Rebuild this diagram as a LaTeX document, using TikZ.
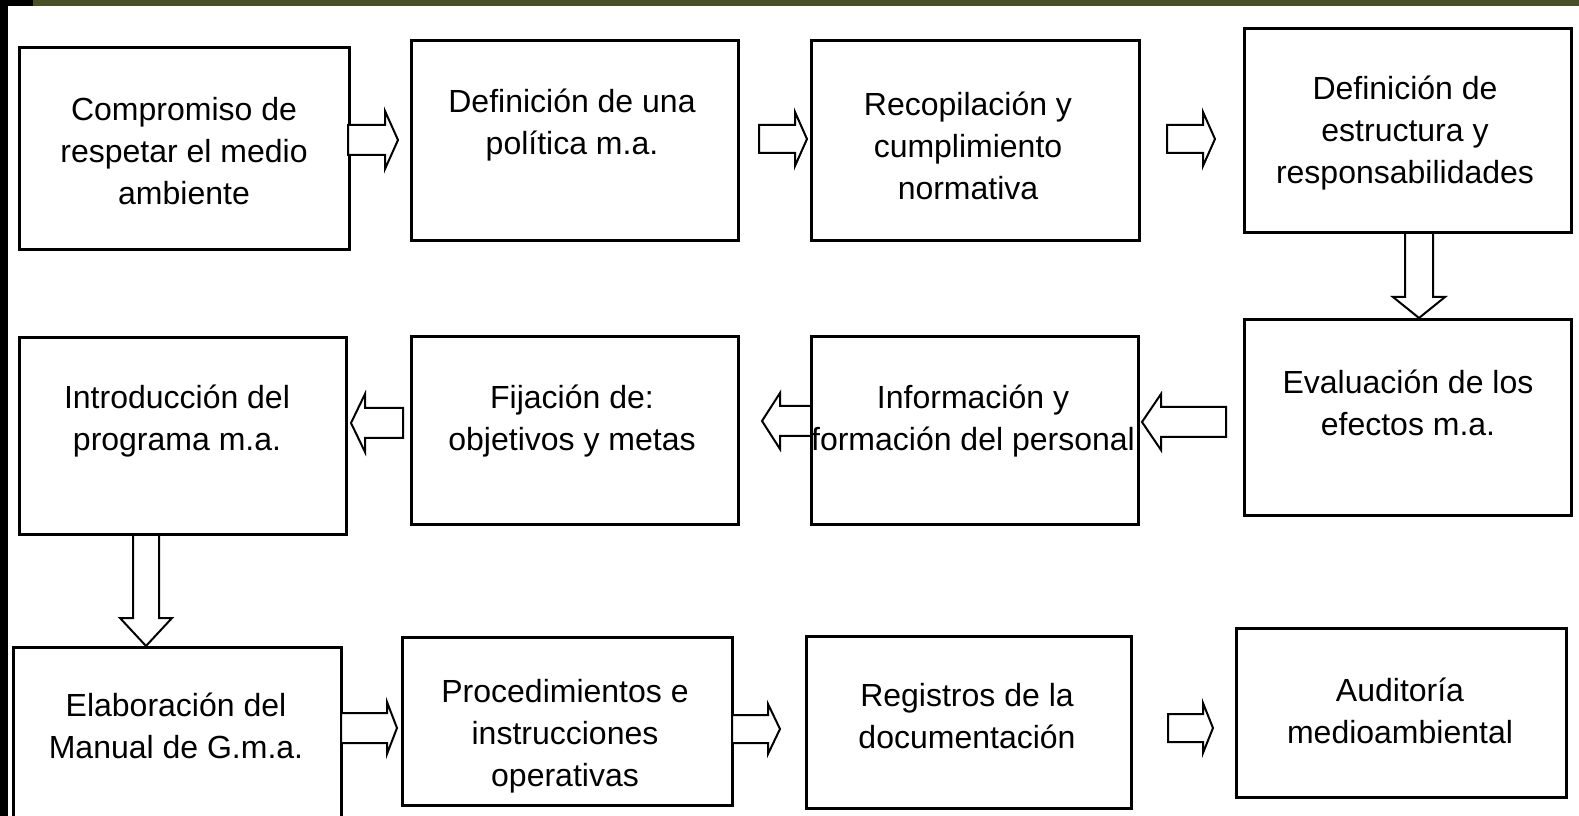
\documentclass[tikz,border=0pt]{standalone}
\usepackage{fontspec}
\setmainfont{Liberation Sans}
\definecolor{olivebar}{RGB}{74,80,40}
\tikzset{
  boxnode/.style={draw=black, line width=2.25pt, fill=white, inner sep=0pt, outer sep=0pt},
  txt/.style={align=center, inner sep=0pt, font=\fontsize{24}{31.5}\selectfont},
  blockarrow/.style={draw=black, line width=1.5pt, fill=white, line join=miter}
}
% horizontal block arrow: tail x, head base x, tip x, center y, shaft half, head half
\newcommand{\harrowshape}[6]{%
  \draw[blockarrow] (#1,#4-#5) -- (#2,#4-#5) -- (#2,#4-#6) -- (#3,#4) -- (#2,#4+#6) -- (#2,#4+#5) -- (#1,#4+#5) -- cycle;}
% vertical block arrow: center x, tail y, head base y, tip y, shaft half, head half
\newcommand{\varrowshape}[6]{%
  \draw[blockarrow] (#1-#5,#2) -- (#1-#5,#3) -- (#1-#6,#3) -- (#1,#4) -- (#1+#6,#3) -- (#1+#5,#3) -- (#1+#5,#2) -- cycle;}
\begin{document}
\begin{tikzpicture}[x=0.75pt,y=-0.75pt]
\useasboundingbox (0,0) rectangle (1579,816);
\clip (0,0) rectangle (1579,816);
\fill[white] (0,0) rectangle (1579,816);
% frame bars
\fill[olivebar] (0,0) rectangle (1579,6);
\fill[black] (0,0) rectangle (33,6);
\fill[black] (0,0) rectangle (8,816);

% boxes
\node[boxnode, minimum width=330*0.75pt, minimum height=202*0.75pt] (b1) at (184,149) {};
\node[boxnode, minimum width=327*0.75pt, minimum height=200*0.75pt] (b2) at (574.5,141) {};
\node[boxnode, minimum width=328*0.75pt, minimum height=200*0.75pt] (b3) at (975,141) {};
\node[boxnode, minimum width=327*0.75pt, minimum height=204*0.75pt] (b4) at (1407.5,131) {};
\node[boxnode, minimum width=327*0.75pt, minimum height=197*0.75pt] (b5) at (182.5,436) {};
\node[boxnode, minimum width=327*0.75pt, minimum height=188*0.75pt] (b6) at (574.5,431) {};
\node[boxnode, minimum width=327*0.75pt, minimum height=188*0.75pt] (b7) at (974.5,431) {};
\node[boxnode, minimum width=327*0.75pt, minimum height=196*0.75pt] (b8) at (1407.5,418) {};
\node[boxnode, minimum width=328*0.75pt, minimum height=190*0.75pt] (b9) at (177,742) {};
\node[boxnode, minimum width=330*0.75pt, minimum height=168*0.75pt] (b10) at (567,721) {};
\node[boxnode, minimum width=325*0.75pt, minimum height=172*0.75pt] (b11) at (968.5,722) {};
\node[boxnode, minimum width=330*0.75pt, minimum height=169*0.75pt] (b12) at (1401,712.5) {};

% texts
\node[txt] (t1) at (184,151) {Compromiso de\\respetar el medio\\ambiente};
\node[txt] (t2) at (572,125) {Definición de una\\política m.a.};
\node[txt] (t3) at (968,146) {Recopilación y\\cumplimiento\\normativa};
\node[txt] (t4) at (1405,133) {Definición de\\estructura y\\responsabilidades};
\node[txt] (t5) at (177,421) {Introducción del\\programa m.a.};
\node[txt] (t6) at (572,421) {Fijación de:\\objetivos y metas};
\node[txt] (t7) at (973,421) {Información y\\formación del personal};
\node[txt] (t8) at (1408,403) {Evaluación de los\\efectos m.a.};
\node[txt] (t9) at (176,726) {Elaboración del\\Manual de G.m.a.};
\node[txt] (t10) at (565,736) {Procedimientos e\\instrucciones\\operativas};
\node[txt] (t11) at (967,716) {Registros de la\\documentación};
\node[txt] (t12) at (1400,711) {Auditoría\\medioambiental};

% block arrows (connectors)
\harrowshape{348}{385}{398}{140}{15}{29}
\harrowshape{759}{795}{807}{139}{14}{27}
\harrowshape{1167}{1203}{1215}{139}{14}{27}
\varrowshape{1419}{233}{297}{318}{14}{26}
\harrowshape{1226}{1161}{1142}{422}{15}{28}
\harrowshape{811}{780}{762}{421}{15}{28}
\harrowshape{403}{365}{351}{423}{15}{29}
\varrowshape{146}{535}{618}{646}{13}{26}
\harrowshape{341}{387}{397}{728}{15}{26}
\harrowshape{732}{768}{780}{729}{14}{25}
\harrowshape{1168}{1203}{1213}{728}{14}{25}
\end{tikzpicture}
\end{document}
